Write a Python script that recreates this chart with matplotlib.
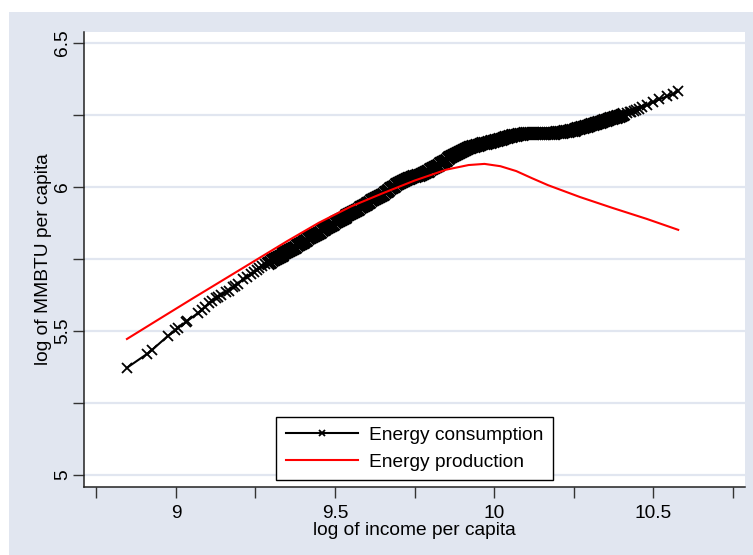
import numpy as np
import matplotlib
matplotlib.use("Agg")
import matplotlib.pyplot as plt
from matplotlib.patches import Rectangle

plt.rcParams["font.family"] = ["Liberation Sans", "DejaVu Sans"]

# energy consumption: fitted values at each country's log income
cons_x = [8.846, 8.909, 8.925, 8.975, 8.998, 9.006, 9.031, 9.035, 9.069, 9.081,
          9.090, 9.104, 9.112, 9.125, 9.133, 9.142, 9.158, 9.166, 9.178, 9.186,
          9.196, 9.211, 9.222, 9.236, 9.244, 9.255, 9.262, 9.271, 9.280,
          9.290, 9.296, 9.302, 9.308, 9.314, 9.320, 9.326, 9.332, 9.338, 9.344,
          9.350, 9.356, 9.362, 9.368, 9.374, 9.380, 9.386, 9.392, 9.398, 9.404,
          9.410, 9.416, 9.422, 9.428, 9.434, 9.440, 9.446, 9.452, 9.458, 9.464,
          9.470, 9.476, 9.482, 9.488, 9.494, 9.500, 9.506, 9.512, 9.518, 9.524,
          9.530, 9.536, 9.542, 9.548, 9.554, 9.560, 9.566, 9.572, 9.578, 9.584,
          9.590, 9.596, 9.602, 9.608, 9.614, 9.620, 9.626, 9.632, 9.638, 9.644,
          9.650, 9.656, 9.662, 9.668, 9.674, 9.680, 9.686, 9.692, 9.698, 9.704,
          9.710, 9.716, 9.722, 9.728, 9.734, 9.740, 9.746, 9.752, 9.758, 9.764,
          9.770, 9.776, 9.782, 9.788, 9.794, 9.800, 9.806, 9.812, 9.818, 9.824,
          9.830, 9.836, 9.842, 9.848, 9.854, 9.860, 9.866, 9.872, 9.878, 9.884,
          9.890, 9.896, 9.902, 9.908, 9.914, 9.920, 9.926, 9.932, 9.938, 9.944,
          9.950, 9.956, 9.962, 9.968, 9.974, 9.980, 9.986, 9.992, 9.998, 10.004,
          10.010, 10.016, 10.022, 10.028, 10.034, 10.040, 10.046, 10.052, 10.058, 10.064,
          10.070, 10.076, 10.082, 10.088, 10.094, 10.100, 10.106, 10.112, 10.118, 10.124,
          10.130, 10.136, 10.142, 10.148, 10.154, 10.160, 10.166, 10.172, 10.178, 10.184,
          10.190, 10.196, 10.202, 10.208, 10.214, 10.220, 10.226, 10.232, 10.238, 10.244,
          10.250, 10.256, 10.262, 10.268, 10.274, 10.280, 10.286, 10.292, 10.298, 10.304,
          10.310, 10.316, 10.322, 10.328, 10.334, 10.340, 10.346, 10.352, 10.358, 10.364,
          10.370, 10.376, 10.382, 10.388, 10.394, 10.400, 10.406,
          10.418, 10.426, 10.432, 10.441, 10.447, 10.455, 10.466, 10.480, 10.500, 10.520,
          10.544, 10.563, 10.579]
cons_y = [5.372, 5.420, 5.434, 5.483, 5.502, 5.510, 5.531, 5.534, 5.562, 5.573,
          5.582, 5.597, 5.603, 5.613, 5.619, 5.625, 5.635, 5.640, 5.651, 5.657,
          5.664, 5.679, 5.687, 5.697, 5.703, 5.712, 5.718, 5.726, 5.731,
          5.737, 5.741, 5.745, 5.749, 5.753, 5.757, 5.761, 5.765, 5.769, 5.773,
          5.777, 5.781, 5.785, 5.789, 5.793, 5.797, 5.801, 5.805, 5.809, 5.813,
          5.817, 5.821, 5.825, 5.829, 5.833, 5.837, 5.841, 5.845, 5.849, 5.853,
          5.857, 5.861, 5.865, 5.869, 5.873, 5.877, 5.881, 5.885, 5.889, 5.893,
          5.897, 5.901, 5.905, 5.909, 5.913, 5.917, 5.921, 5.925, 5.929, 5.933,
          5.937, 5.941, 5.945, 5.949, 5.953, 5.957, 5.961, 5.965, 5.969, 5.973,
          5.977, 5.982, 5.986, 5.991, 5.995, 6.000, 6.004, 6.009, 6.013, 6.017,
          6.021, 6.024, 6.027, 6.030, 6.032, 6.035, 6.037, 6.039, 6.041, 6.043,
          6.045, 6.048, 6.051, 6.054, 6.057, 6.061, 6.065, 6.069, 6.073, 6.077,
          6.082, 6.086, 6.091, 6.095, 6.099, 6.103, 6.107, 6.111, 6.115, 6.119,
          6.123, 6.126, 6.129, 6.132, 6.135, 6.137, 6.139, 6.141, 6.143, 6.145,
          6.147, 6.149, 6.151, 6.152, 6.154, 6.155, 6.157, 6.158, 6.160, 6.162,
          6.164, 6.166, 6.168, 6.170, 6.172, 6.174, 6.176, 6.177, 6.179, 6.180,
          6.182, 6.183, 6.184, 6.185, 6.186, 6.187, 6.187, 6.188, 6.188, 6.188,
          6.188, 6.188, 6.188, 6.188, 6.188, 6.188, 6.188, 6.189, 6.189, 6.189,
          6.189, 6.190, 6.190, 6.191, 6.192, 6.193, 6.194, 6.195, 6.196, 6.198,
          6.199, 6.201, 6.203, 6.205, 6.207, 6.209, 6.211, 6.213, 6.215, 6.217,
          6.219, 6.221, 6.223, 6.225, 6.227, 6.229, 6.231, 6.233, 6.236, 6.238,
          6.240, 6.242, 6.244, 6.246, 6.248, 6.250, 6.252,
          6.255, 6.259, 6.261, 6.265, 6.268, 6.272, 6.276, 6.284, 6.294, 6.304,
          6.315, 6.323, 6.332]

# energy production curve
prod_x = [8.846, 8.95, 9.05, 9.15, 9.25, 9.35, 9.45, 9.55, 9.65, 9.75,
          9.85, 9.92, 9.97, 10.02, 10.07, 10.12, 10.17, 10.27, 10.37, 10.48, 10.579]
prod_y = [5.472, 5.543, 5.611, 5.678, 5.745, 5.812, 5.876, 5.932, 5.978, 6.022,
          6.060, 6.076, 6.080, 6.072, 6.055, 6.030, 6.006, 5.965, 5.928, 5.889, 5.851]

bg = "#E1E6F0"
W, H = 753, 555
fig = plt.figure(figsize=(W / 100, H / 100), dpi=100, facecolor="white")
fig.patches.append(Rectangle((9 / W, 0), 1 - 9 / W, 1 - 12 / H, transform=fig.transFigure,
                             facecolor=bg, edgecolor="none", zorder=-10))
ax = fig.add_axes([84 / W, (H - 487) / H, (745 - 84) / W, (487 - 32) / H])
ax.set_facecolor("white")

ax.plot(cons_x, cons_y, "-", color="black", lw=1.5, marker="x", ms=7, mew=1.3,
        label="Energy consumption", zorder=3)
# crowded middle: overlapping markers merge into a thick band
ax.plot(cons_x[29:216], cons_y[29:216], "x", color="black", ms=9, mew=1.9, zorder=3)
ax.plot(prod_x, prod_y, "-", color="#FF0000", lw=1.5, label="Energy production", zorder=4)

ax.set_xlim(8.711, 10.789)
ax.set_ylim(4.958, 6.538)
ax.set_xticks([9, 9.5, 10, 10.5])
ax.set_xticklabels(["9", "9.5", "10", "10.5"])
ax.set_xticks([8.75, 9.25, 9.75, 10.25, 10.75], minor=True)
ax.set_yticks([5, 5.5, 6, 6.5])
ax.set_yticklabels(["5", "5.5", "6", "6.5"], rotation=90, va="center")
ax.set_yticks([5.25, 5.75, 6.25], minor=True)
ax.tick_params(which="both", direction="out", length=8, width=1, color="#333333",
               labelsize=13.8)
ax.tick_params(axis="y", pad=1.5)
ax.tick_params(axis="x", pad=5)
ax.grid(axis="y", which="both", color=bg, lw=1.6, zorder=0)
ax.set_axisbelow(True)

for s in ["top", "right"]:
    ax.spines[s].set_visible(False)
for s in ["left", "bottom"]:
    ax.spines[s].set_color("#222222")
    ax.spines[s].set_linewidth(1.1)

ax.set_xlabel("log of income per capita", fontsize=13.8, labelpad=0)
ax.set_ylabel("log of MMBTU per capita", fontsize=13.8, labelpad=1)

leg = ax.legend(loc="lower center", bbox_to_anchor=(0.5, 0.015), fontsize=13.8,
                frameon=True, fancybox=False, edgecolor="black", framealpha=1,
                handlelength=3.8, handletextpad=0.55, borderpad=0.5,
                labelspacing=0.5, markerscale=0.6, borderaxespad=0)
leg.get_frame().set_linewidth(1.0)

fig.savefig("out.png", dpi=100, facecolor="white")
